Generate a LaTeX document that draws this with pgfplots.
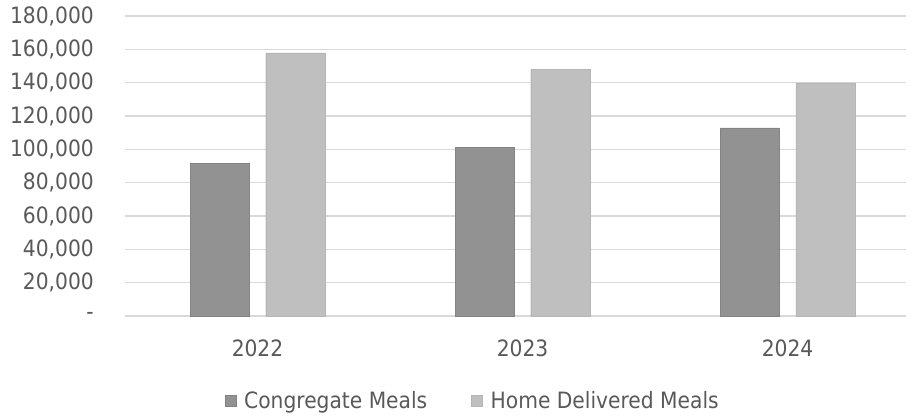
\documentclass[border=0pt]{standalone}
\usepackage{pgfplots}
\pgfplotsset{compat=1.18}
\usepackage{fontspec}
\setmainfont{DejaVu Sans Condensed}
\definecolor{txt}{HTML}{595959}
\definecolor{gridc}{HTML}{D9D9D9}
\definecolor{cong}{HTML}{929292}
\definecolor{home}{HTML}{BFBFBF}
\begin{document}
\begin{tikzpicture}[x=1pt,y=1pt]
\path[use as bounding box] (0,0) rectangle (911,418);
\begin{axis}[
  at={(125pt,102pt)}, anchor=south west,
  scale only axis, width=781pt, height=300pt,
  ymin=0, ymax=180000, xmin=-0.5, xmax=2.447,
  scaled y ticks=false,
  ytick={0,20000,...,180000},
  yticklabels={{-\hspace{16pt}},{20,000},{40,000},{60,000},{80,000},{100,000},{120,000},{140,000},{160,000},{180,000}},
  xtick={0,1,2}, xticklabels={2022,2023,2024},
  major tick length=0pt,
  axis line style={draw=none},
  ymajorgrids, major grid style={color=gridc, line width=1.5pt},
  yticklabel style={anchor=east, inner sep=0pt, xshift=-31pt, font=\fontsize{22.5}{26}\selectfont, text=txt},
  xticklabel style={anchor=north, inner sep=0pt, yshift=-24pt, font=\fontsize{22.5}{26}\selectfont, text=txt},
  ybar, bar width=0.223,
  legend style={draw=none, fill=none, at={(0.444,-0.283)}, anchor=center, legend columns=2,
    font=\fontsize{22.5}{26}\selectfont, text=txt,
    /tikz/every even column/.append style={column sep=44pt},
    inner sep=0pt, cells={anchor=west}, nodes={inner sep=0pt}},
  legend image code/.code={\fill[#1] (0pt,-5.5pt) rectangle (11pt,5.5pt); \path (19pt,0pt);},
]
\addplot[fill=cong, draw=cong!90!black, bar shift=-0.1425] coordinates {(0,91400) (1,101000) (2,112800)};
\addplot[fill=home, draw=home!95!black, bar shift=0.1425] coordinates {(0,157800) (1,148000) (2,139800)};
\legend{Congregate Meals, Home Delivered Meals}
\end{axis}
\end{tikzpicture}
\end{document}
